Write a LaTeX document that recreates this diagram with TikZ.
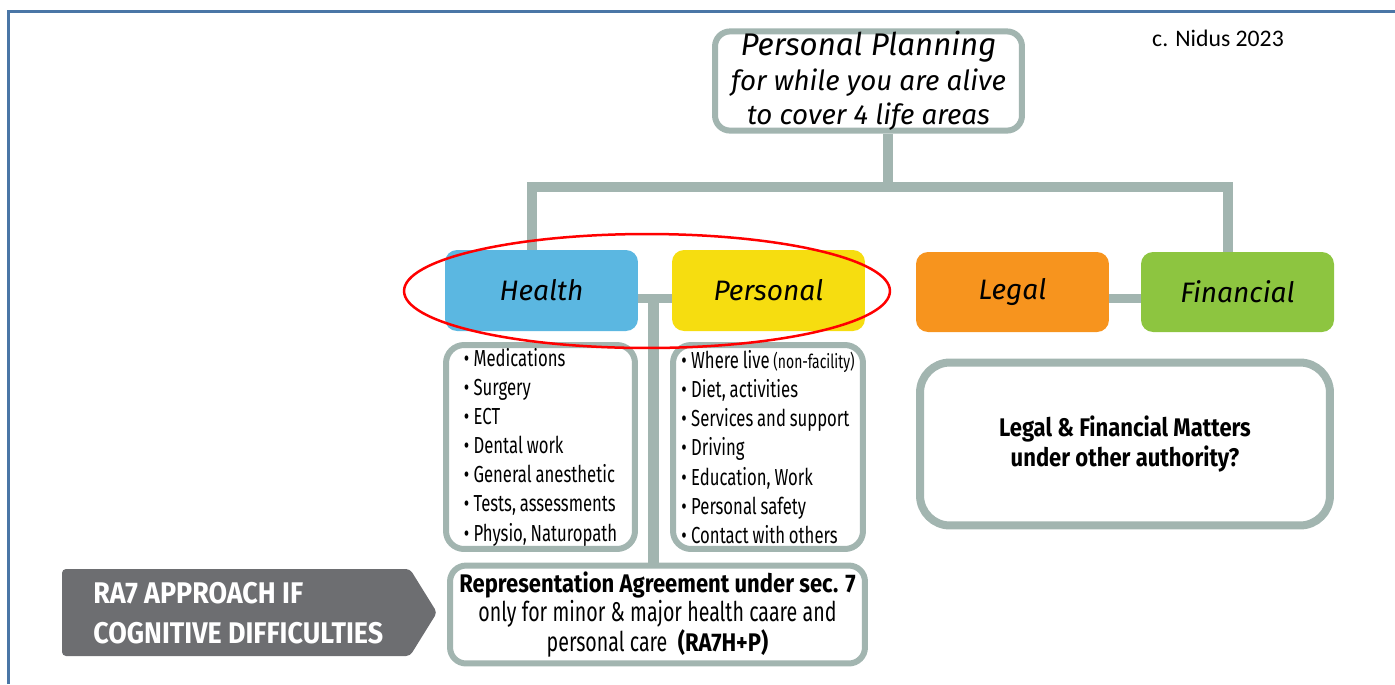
\documentclass[tikz,border=0pt]{standalone}
\usepackage{fontspec}
\setmainfont{Fira Sans}
\newfontfamily\condfont[FakeStretch=0.72]{Fira Sans}
\newfontfamily\boldcond[FakeStretch=0.865]{Fira Sans}
\newfontfamily\notecond[FakeStretch=0.9]{Fira Sans}
\newfontfamily\notefont{Carlito}
\definecolor{linkgray}{HTML}{A2B5B0}
\definecolor{framblue}{HTML}{4A76A6}
\definecolor{healthblue}{HTML}{5BB7E1}
\definecolor{persyellow}{HTML}{F6DD10}
\definecolor{legorange}{HTML}{F7941E}
\definecolor{fingreen}{HTML}{8DC540}
\definecolor{notegray}{HTML}{6D6E71}
\newcommand{\bitem}{\textbullet\hspace{2.5pt}}
\newcommand{\listfont}{\condfont\fontsize{13.2}{16.6}\selectfont\spaceskip=2.2pt\relax}
\newcommand{\rafont}{\condfont\fontsize{15.5}{17}\selectfont\spaceskip=3pt plus 1pt\relax}
\begin{document}
\begin{tikzpicture}[x=0.02cm,y=-0.02cm,
    link/.style={draw=linkgray,line width=0.2cm},
    area/.style={rounded corners=0.24cm,minimum width=3.86cm,minimum height=1.62cm,
        inner sep=0pt,font=\fontsize{16}{19}\selectfont\itshape},
    listbox/.style={draw=linkgray,line width=0.12cm,rounded corners=0.36cm,fill=white,
        minimum height=4.08cm,align=left,anchor=center,inner sep=0pt,font=\listfont}]
    \useasboundingbox (0,0) rectangle (1395,684);
    % frame
    \draw[framblue,line width=0.06cm] (8.5,684) -- (8.5,11) -- (1395,11);
    \node[font=\notefont\fontsize{13.5}{15}\selectfont] (Nidus) at (1218,38) {c. Nidus 2023};
    % top box
    \node[draw=linkgray,line width=0.12cm,rounded corners=0.3cm,fill=white,
        minimum width=6.14cm,minimum height=1.98cm,align=center,inner sep=0pt,
        font=\fontsize{15.8}{19.6}\selectfont\itshape] (Top) at (868.5,81)
        {{\fontsize{17.8}{19.6}\selectfont Personal Planning}\\for while you are alive\\to cover 4 life areas};
    % four life areas
    \node[area,fill=healthblue] (Hea) at (541.5,290.5) {Health};
    \node[area,fill=persyellow] (Per) at (768.5,290.5) {Personal};
    \node[area,fill=legorange,minimum height=1.6cm] (Leg) at (1012.5,292) {Legal};
    \node[area,fill=fingreen,minimum height=1.6cm] (Fin) at (1237.5,292) {Financial};
    % lists
    \node[listbox,minimum width=3.78cm] (HeaList) at (540.5,447)
        {\bitem Medications\\ \bitem Surgery\\ \bitem ECT\\ \bitem Dental work\\
         \bitem General anesthetic\\ \bitem Tests, assessments\\ \bitem Physio, Naturopath};
    \node[listbox,minimum width=3.8cm] (PerList) at (768,447)
        {\bitem Where live {\fontsize{11}{12}\selectfont(non-facility)}\\ \bitem Diet, activities\\
         \bitem Services and support\\ \bitem Driving\\ \bitem Education, Work\\
         \bitem Personal safety\\ \bitem Contact with others};
    \node[draw=linkgray,line width=0.16cm,rounded corners=0.6cm,fill=white,
        minimum width=8.2cm,minimum height=3.26cm,align=center,
        font=\boldcond\bfseries\fontsize{14.5}{17}\selectfont] (LF) at (1125,444)
        {Legal \& Financial Matters\\under other authority?};
    \node[draw=linkgray,line width=0.12cm,rounded corners=0.32cm,fill=white,
        minimum width=8.3cm,minimum height=1.82cm,align=center,font=\rafont] (RA) at (657.5,614.5)
        {{\boldcond\bfseries\fontsize{14.5}{17}\selectfont Representation Agreement under sec. 7}\\
         only for minor \& major health caare and\\
         personal care\ \ {\boldcond\bfseries\fontsize{14.5}{17}\selectfont(RA7H+P)}};
    % connectors
    \coordinate (Fork) at (888,187);
    \coordinate (Tee) at (653,298);
    \draw[link] (Fork) -- (Fork |- Top.south);
    \draw[link] ([xshift=-0.19cm]Hea.north) |- (Fork) -| ([xshift=-0.19cm]Fin.north);
    \draw[link,line width=0.18cm] (Hea.east |- Tee) -- (Per.west |- Tee);
    \draw[link,line width=0.22cm] (Tee) -- (Tee |- RA.north);
    \draw[link,line width=0.18cm] (Leg.east |- Tee) -- (Fin.west |- Tee);
    % RA7 arrow
    \fill[notegray,rounded corners=0.08cm] (62,569) -- (410,569) -- (437,612.5) -- (410,656) -- (62,656) -- cycle;
    \node[anchor=west,align=left,text=white,inner sep=0pt,
        font=\notecond\bfseries\fontsize{17}{22.8}\selectfont] (Note) at (93,613)
        {RA7 APPROACH IF\\COGNITIVE DIFFICULTIES};
    % highlight
    \draw[red,line width=0.05cm] (647,291) ellipse [x radius=4.86cm,y radius=1.14cm];
\end{tikzpicture}
\end{document}
